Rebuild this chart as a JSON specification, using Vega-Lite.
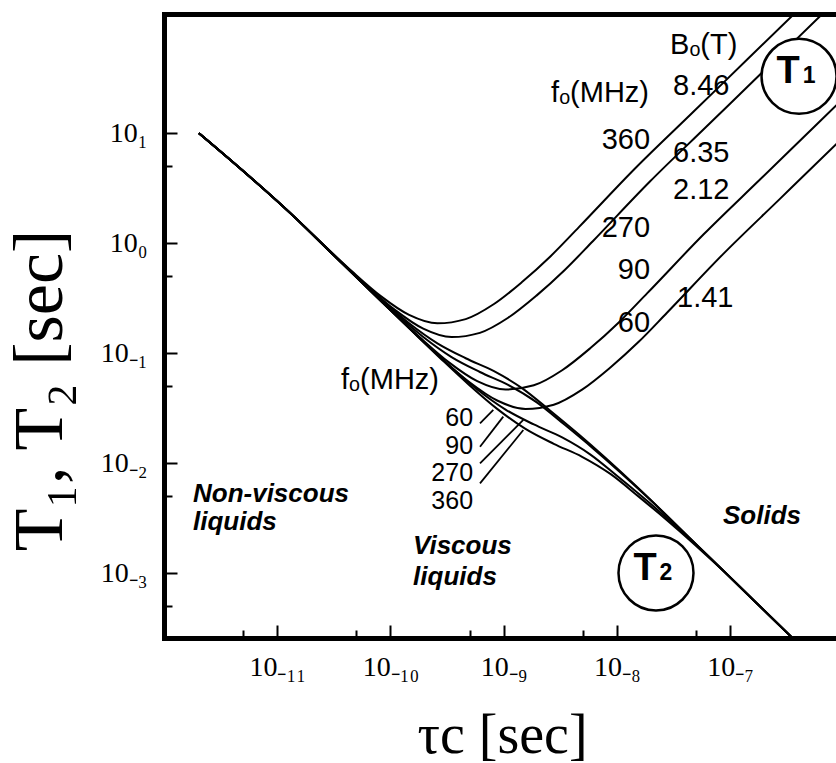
{
  "$schema": "https://vega.github.io/schema/vega-lite/v6.json",
  "width": 672,
  "height": 624,
  "autosize": {"type": "none"},
  "padding": {"left": 164, "top": 14, "right": 0, "bottom": 125},
  "background": "white",
  "config": {"view": {"stroke": null}},
  "resolve": {"axis": {"x": "independent", "y": "independent"}},
  "datasets": {
    "curves": [
      {"c": "T1-360", "tau": 2.037e-12, "T": 10},
      {"c": "T1-360", "tau": 1.462e-11, "T": 1.688},
      {"c": "T1-360", "tau": 2.600e-11, "T": 0.9565},
      {"c": "T1-360", "tau": 4.624e-11, "T": 0.5502},
      {"c": "T1-360", "tau": 8.222e-11, "T": 0.3310},
      {"c": "T1-360", "tau": 1.462e-10, "T": 0.2235},
      {"c": "T1-360", "tau": 2.600e-10, "T": 0.1874},
      {"c": "T1-360", "tau": 4.624e-10, "T": 0.2047},
      {"c": "T1-360", "tau": 8.222e-10, "T": 0.2805},
      {"c": "T1-360", "tau": 1.462e-9, "T": 0.4463},
      {"c": "T1-360", "tau": 2.600e-9, "T": 0.7630},
      {"c": "T1-360", "tau": 4.624e-9, "T": 1.402},
      {"c": "T1-360", "tau": 1.462e-8, "T": 4.833},
      {"c": "T1-360", "tau": 4.624e-8, "T": 15.27},
      {"c": "T1-360", "tau": 1.462e-7, "T": 48.30},
      {"c": "T1-360", "tau": 4.624e-7, "T": 152.7},

      {"c": "T2-360", "tau": 2.037e-12, "T": 10},
      {"c": "T2-360", "tau": 1.462e-11, "T": 1.685},
      {"c": "T2-360", "tau": 2.600e-11, "T": 0.9501},
      {"c": "T2-360", "tau": 4.624e-11, "T": 0.5390},
      {"c": "T2-360", "tau": 8.222e-11, "T": 0.3111},
      {"c": "T2-360", "tau": 1.462e-10, "T": 0.1875},
      {"c": "T2-360", "tau": 2.600e-10, "T": 0.1232},
      {"c": "T2-360", "tau": 4.624e-10, "T": 0.09020},
      {"c": "T2-360", "tau": 8.222e-10, "T": 0.06882},
      {"c": "T2-360", "tau": 1.462e-9, "T": 0.04803},
      {"c": "T2-360", "tau": 2.600e-9, "T": 0.02986},
      {"c": "T2-360", "tau": 4.624e-9, "T": 0.01824},
      {"c": "T2-360", "tau": 1.462e-8, "T": 6.281e-3},
      {"c": "T2-360", "tau": 4.624e-8, "T": 1.990e-3},
      {"c": "T2-360", "tau": 1.462e-7, "T": 6.29e-4},
      {"c": "T2-360", "tau": 4.624e-7, "T": 1.990e-4},

      {"c": "T1-270", "tau": 2.037e-12, "T": 10},
      {"c": "T1-270", "tau": 1.462e-11, "T": 1.685},
      {"c": "T1-270", "tau": 1.950e-11, "T": 1.266},
      {"c": "T1-270", "tau": 3.467e-11, "T": 0.7174},
      {"c": "T1-270", "tau": 6.166e-11, "T": 0.4125},
      {"c": "T1-270", "tau": 1.096e-10, "T": 0.2482},
      {"c": "T1-270", "tau": 1.950e-10, "T": 0.1675},
      {"c": "T1-270", "tau": 3.467e-10, "T": 0.1405},
      {"c": "T1-270", "tau": 6.166e-10, "T": 0.1535},
      {"c": "T1-270", "tau": 1.096e-9, "T": 0.2104},
      {"c": "T1-270", "tau": 1.950e-9, "T": 0.3346},
      {"c": "T1-270", "tau": 3.467e-9, "T": 0.5722},
      {"c": "T1-270", "tau": 6.166e-9, "T": 1.051},
      {"c": "T1-270", "tau": 1.950e-8, "T": 3.625},
      {"c": "T1-270", "tau": 6.166e-8, "T": 11.46},
      {"c": "T1-270", "tau": 1.950e-7, "T": 36.22},
      {"c": "T1-270", "tau": 6.166e-7, "T": 114.6},
      {"c": "T1-270", "tau": 1.950e-6, "T": 362.2},

      {"c": "T2-270", "tau": 2.037e-12, "T": 10},
      {"c": "T2-270", "tau": 1.462e-11, "T": 1.685},
      {"c": "T2-270", "tau": 1.950e-11, "T": 1.264},
      {"c": "T2-270", "tau": 3.467e-11, "T": 0.7126},
      {"c": "T2-270", "tau": 6.166e-11, "T": 0.4042},
      {"c": "T2-270", "tau": 1.096e-10, "T": 0.2332},
      {"c": "T2-270", "tau": 1.950e-10, "T": 0.1406},
      {"c": "T2-270", "tau": 3.467e-10, "T": 0.09239},
      {"c": "T2-270", "tau": 6.166e-10, "T": 0.06764},
      {"c": "T2-270", "tau": 1.096e-9, "T": 0.05162},
      {"c": "T2-270", "tau": 1.950e-9, "T": 0.03602},
      {"c": "T2-270", "tau": 3.467e-9, "T": 0.02239},
      {"c": "T2-270", "tau": 6.166e-9, "T": 0.01367},
      {"c": "T2-270", "tau": 1.950e-8, "T": 4.710e-3},
      {"c": "T2-270", "tau": 6.166e-8, "T": 1.492e-3},
      {"c": "T2-270", "tau": 1.950e-7, "T": 4.720e-4},
      {"c": "T2-270", "tau": 6.166e-7, "T": 1.492e-4},

      {"c": "T1-90", "tau": 2.037e-12, "T": 10},
      {"c": "T1-90", "tau": 1.462e-11, "T": 1.685},
      {"c": "T1-90", "tau": 3.162e-11, "T": 0.778},
      {"c": "T1-90", "tau": 5.848e-11, "T": 0.4221},
      {"c": "T1-90", "tau": 1.040e-10, "T": 0.2392},
      {"c": "T1-90", "tau": 1.849e-10, "T": 0.1376},
      {"c": "T1-90", "tau": 3.289e-10, "T": 0.08274},
      {"c": "T1-90", "tau": 5.848e-10, "T": 0.05586},
      {"c": "T1-90", "tau": 1.040e-9, "T": 0.04684},
      {"c": "T1-90", "tau": 1.849e-9, "T": 0.05118},
      {"c": "T1-90", "tau": 3.289e-9, "T": 0.07015},
      {"c": "T1-90", "tau": 5.848e-9, "T": 0.1116},
      {"c": "T1-90", "tau": 1.040e-8, "T": 0.1908},
      {"c": "T1-90", "tau": 1.849e-8, "T": 0.3504},
      {"c": "T1-90", "tau": 5.848e-8, "T": 1.208},
      {"c": "T1-90", "tau": 1.849e-7, "T": 3.820},
      {"c": "T1-90", "tau": 5.848e-7, "T": 12.08},
      {"c": "T1-90", "tau": 1.849e-6, "T": 38.20},

      {"c": "T2-90", "tau": 2.037e-12, "T": 10},
      {"c": "T2-90", "tau": 1.462e-11, "T": 1.685},
      {"c": "T2-90", "tau": 3.162e-11, "T": 0.778},
      {"c": "T2-90", "tau": 5.848e-11, "T": 0.4213},
      {"c": "T2-90", "tau": 1.040e-10, "T": 0.2376},
      {"c": "T2-90", "tau": 1.849e-10, "T": 0.1348},
      {"c": "T2-90", "tau": 3.289e-10, "T": 0.07773},
      {"c": "T2-90", "tau": 5.848e-10, "T": 0.04688},
      {"c": "T2-90", "tau": 1.040e-9, "T": 0.03081},
      {"c": "T2-90", "tau": 1.849e-9, "T": 0.02255},
      {"c": "T2-90", "tau": 3.289e-9, "T": 0.01720},
      {"c": "T2-90", "tau": 5.848e-9, "T": 0.01201},
      {"c": "T2-90", "tau": 1.040e-8, "T": 7.463e-3},
      {"c": "T2-90", "tau": 1.849e-8, "T": 4.561e-3},
      {"c": "T2-90", "tau": 5.848e-8, "T": 1.571e-3},
      {"c": "T2-90", "tau": 1.849e-7, "T": 4.976e-4},
      {"c": "T2-90", "tau": 5.848e-7, "T": 1.574e-4},

      {"c": "T1-60", "tau": 2.037e-12, "T": 10},
      {"c": "T1-60", "tau": 1.462e-11, "T": 1.685},
      {"c": "T1-60", "tau": 3.162e-11, "T": 0.778},
      {"c": "T1-60", "tau": 5.623e-11, "T": 0.4375},
      {"c": "T1-60", "tau": 8.770e-11, "T": 0.2815},
      {"c": "T1-60", "tau": 1.560e-10, "T": 0.1595},
      {"c": "T1-60", "tau": 2.773e-10, "T": 0.09173},
      {"c": "T1-60", "tau": 4.932e-10, "T": 0.05518},
      {"c": "T1-60", "tau": 8.770e-10, "T": 0.03725},
      {"c": "T1-60", "tau": 1.560e-9, "T": 0.03123},
      {"c": "T1-60", "tau": 2.773e-9, "T": 0.03411},
      {"c": "T1-60", "tau": 4.932e-9, "T": 0.04677},
      {"c": "T1-60", "tau": 8.770e-9, "T": 0.07439},
      {"c": "T1-60", "tau": 1.560e-8, "T": 0.1272},
      {"c": "T1-60", "tau": 2.773e-8, "T": 0.2337},
      {"c": "T1-60", "tau": 8.770e-8, "T": 0.8058},
      {"c": "T1-60", "tau": 2.773e-7, "T": 2.547},
      {"c": "T1-60", "tau": 8.770e-7, "T": 8.054},
      {"c": "T1-60", "tau": 2.773e-6, "T": 25.47},

      {"c": "T2-60", "tau": 2.037e-12, "T": 10},
      {"c": "T2-60", "tau": 1.462e-11, "T": 1.685},
      {"c": "T2-60", "tau": 3.162e-11, "T": 0.778},
      {"c": "T2-60", "tau": 5.623e-11, "T": 0.4375},
      {"c": "T2-60", "tau": 8.770e-11, "T": 0.2809},
      {"c": "T2-60", "tau": 1.560e-10, "T": 0.1584},
      {"c": "T2-60", "tau": 2.773e-10, "T": 0.08987},
      {"c": "T2-60", "tau": 4.932e-10, "T": 0.05186},
      {"c": "T2-60", "tau": 8.770e-10, "T": 0.03126},
      {"c": "T2-60", "tau": 1.560e-9, "T": 0.02054},
      {"c": "T2-60", "tau": 2.773e-9, "T": 0.01504},
      {"c": "T2-60", "tau": 4.932e-9, "T": 0.01147},
      {"c": "T2-60", "tau": 8.770e-9, "T": 8.011e-3},
      {"c": "T2-60", "tau": 1.560e-8, "T": 4.978e-3},
      {"c": "T2-60", "tau": 2.773e-8, "T": 3.042e-3},
      {"c": "T2-60", "tau": 8.770e-8, "T": 1.047e-3},
      {"c": "T2-60", "tau": 2.773e-7, "T": 3.318e-4},
      {"c": "T2-60", "tau": 8.770e-7, "T": 1.049e-4}
    ],
    "leaders": [
      {"tau": 6.186e-10, "T": 0.02312, "tau2": 8.11e-10, "T2": 0.03055},
      {"tau": 6.186e-10, "T": 0.01416, "tau2": 9.93e-10, "T2": 0.02655},
      {"tau": 6.186e-10, "T": 0.0100, "tau2": 1.493e-9, "T2": 0.02477},
      {"tau": 6.186e-10, "T": 0.006577, "tau2": 1.493e-9, "T2": 0.02009}
    ],
    "circles": [
      {"tau": 4.07e-7, "T": 33.0},
      {"tau": 2.218e-8, "T": 1.007e-3}
    ],
    "circleText": [
      {"tau": 4.07e-7, "T": 33.0, "text": "T", "kind": "big"},
      {"tau": 4.07e-7, "T": 33.0, "text": "1", "kind": "sub"},
      {"tau": 2.218e-8, "T": 1.007e-3, "text": "T", "kind": "big"},
      {"tau": 2.218e-8, "T": 1.007e-3, "text": "2", "kind": "sub"}
    ],
    "notes": [
      {"tau": 2.951e-8, "T": 63.5, "text": "Bₒ(T)", "kind": "l"},
      {"tau": 3.136e-8, "T": 26.9, "text": "8.46", "kind": "l"},
      {"tau": 3.136e-8, "T": 6.62, "text": "6.35", "kind": "l"},
      {"tau": 3.136e-8, "T": 3.051, "text": "2.12", "kind": "l"},
      {"tau": 3.404e-8, "T": 0.3185, "text": "1.41", "kind": "l"},
      {"tau": 7.106e-9, "T": 23.2, "text": "fₒ(MHz)", "kind": "c"},
      {"tau": 9.92e-11, "T": 0.0571, "text": "fₒ(MHz)", "kind": "c"},
      {"tau": 1.965e-8, "T": 8.69, "text": "360", "kind": "r"},
      {"tau": 1.965e-8, "T": 1.377, "text": "270", "kind": "r"},
      {"tau": 1.965e-8, "T": 0.5719, "text": "90", "kind": "r"},
      {"tau": 1.965e-8, "T": 0.1886, "text": "60", "kind": "r"},
      {"tau": 5.37e-10, "T": 0.02583, "text": "60", "kind": "rs"},
      {"tau": 5.37e-10, "T": 0.01435, "text": "90", "kind": "rs"},
      {"tau": 5.37e-10, "T": 8.16e-3, "text": "270", "kind": "rs"},
      {"tau": 5.37e-10, "T": 4.54e-3, "text": "360", "kind": "rs"},
      {"tau": 1.803e-12, "T": 5.26e-3, "text": "Non-viscous", "kind": "it"},
      {"tau": 1.803e-12, "T": 2.92e-3, "text": "liquids", "kind": "it"},
      {"tau": 1.585e-10, "T": 1.77e-3, "text": "Viscous", "kind": "it"},
      {"tau": 1.585e-10, "T": 9.25e-4, "text": "liquids", "kind": "it"},
      {"tau": 8.67e-8, "T": 3.32e-3, "text": "Solids", "kind": "it"}
    ]
  },
  "layer": [
    {
      "data": {"name": "curves"},
      "mark": {"type": "line", "color": "black", "strokeWidth": 2, "interpolate": "monotone", "clip": true},
      "encoding": {
        "x": {
          "field": "tau", "type": "quantitative",
          "scale": {"type": "log", "domain": [1e-12, 8.63e-7], "nice": false},
          "axis": {
            "orient": "bottom",
            "values": [5e-12, 1e-11, 5e-11, 1e-10, 5e-10, 1e-9, 5e-9, 1e-8, 5e-8, 1e-7],
            "labelExpr": "datum.value == 1e-11 ? '10₋₁₁' : datum.value == 1e-10 ? '10₋₁₀' : datum.value == 1e-9 ? '10₋₉' : datum.value == 1e-8 ? '10₋₈' : datum.value == 1e-7 ? '10₋₇' : ''",
            "labelFont": "Liberation Serif", "labelFontSize": 28, "labelColor": "black",
            "labelPadding": 28, "labelOverlap": false, "labelFlush": false,
            "tickSize": {"condition": {"test": "abs(log(datum.value)/LN10 - round(log(datum.value)/LN10)) < 0.01", "value": -13}, "value": -8},
            "tickWidth": 2, "tickColor": "black",
            "domainWidth": 5, "domainColor": "black", "domainCap": "square",
            "grid": false,
            "title": "τc [sec]", "titleFont": "Liberation Serif", "titleFontSize": 56,
            "titleFontWeight": "normal", "titleColor": "black",
            "titleX": 338, "titleY": 97, "titleAlign": "center", "titleBaseline": "middle"
          }
        },
        "y": {
          "field": "T", "type": "quantitative",
          "scale": {"type": "log", "domain": [2.582e-4, 121.5], "nice": false},
          "axis": {
            "orient": "left",
            "values": [5e-4, 1e-3, 5e-3, 1e-2, 5e-2, 1e-1, 5e-1, 1, 5, 10],
            "labelExpr": "datum.value == 10 ? '10₁' : datum.value == 1 ? '10₀' : datum.value == 0.1 ? '10₋₁' : datum.value == 0.01 ? '10₋₂' : datum.value == 0.001 ? '10₋₃' : ''",
            "labelFont": "Liberation Serif", "labelFontSize": 28, "labelColor": "black",
            "labelPadding": 30, "labelOverlap": false, "labelFlush": false,
            "tickSize": {"condition": {"test": "abs(log(datum.value)/LN10 - round(log(datum.value)/LN10)) < 0.01", "value": -13}, "value": -8},
            "tickWidth": 2, "tickColor": "black",
            "domainWidth": 5, "domainColor": "black", "domainCap": "square",
            "grid": false,
            "title": "T₁,  T₂  [sec]", "titleFont": "Liberation Serif", "titleFontSize": 70,
            "titleFontWeight": "normal", "titleColor": "black",
            "titleX": -124, "titleY": 376, "titleAngle": 270, "titleAlign": "center", "titleBaseline": "middle"
          }
        },
        "detail": {"field": "c"}
      }
    },
    {
      "data": {"name": "leaders"},
      "mark": {"type": "rule", "color": "black", "strokeWidth": 1.8},
      "encoding": {
        "x": {
          "field": "tau", "type": "quantitative",
          "scale": {"type": "log", "domain": [1e-12, 8.63e-7], "nice": false},
          "axis": {"orient": "top", "labels": false, "ticks": false, "domainWidth": 5, "domainColor": "black", "domainCap": "square", "grid": false, "title": null}
        },
        "x2": {"field": "tau2"},
        "y": {"field": "T", "type": "quantitative", "scale": {"type": "log", "domain": [2.582e-4, 121.5], "nice": false}, "axis": null},
        "y2": {"field": "T2"}
      }
    },
    {
      "data": {"name": "circles"},
      "mark": {"type": "point", "shape": "circle", "filled": true, "fill": "white", "stroke": "black", "strokeWidth": 2.5, "size": 5625, "opacity": 1, "fillOpacity": 1, "strokeOpacity": 1},
      "encoding": {
        "x": {"field": "tau", "type": "quantitative", "scale": {"type": "log", "domain": [1e-12, 8.63e-7], "nice": false}, "axis": null},
        "y": {"field": "T", "type": "quantitative", "scale": {"type": "log", "domain": [2.582e-4, 121.5], "nice": false}, "axis": null}
      }
    },
    {
      "data": {"name": "circleText"},
      "transform": [{"filter": "datum.kind == 'big'"}],
      "mark": {"type": "text", "font": "Liberation Sans", "fontWeight": "bold", "fontSize": 38, "color": "black", "align": "center", "baseline": "alphabetic", "dx": -11, "dy": 7},
      "encoding": {
        "x": {"field": "tau", "type": "quantitative", "scale": {"type": "log", "domain": [1e-12, 8.63e-7], "nice": false}, "axis": null},
        "y": {"field": "T", "type": "quantitative", "scale": {"type": "log", "domain": [2.582e-4, 121.5], "nice": false}, "axis": null},
        "text": {"field": "text"}
      }
    },
    {
      "data": {"name": "circleText"},
      "transform": [{"filter": "datum.kind == 'sub'"}],
      "mark": {"type": "text", "font": "Liberation Sans", "fontWeight": "bold", "fontSize": 23, "color": "black", "align": "center", "baseline": "alphabetic", "dx": 10, "dy": 7},
      "encoding": {
        "x": {"field": "tau", "type": "quantitative", "scale": {"type": "log", "domain": [1e-12, 8.63e-7], "nice": false}, "axis": null},
        "y": {"field": "T", "type": "quantitative", "scale": {"type": "log", "domain": [2.582e-4, 121.5], "nice": false}, "axis": null},
        "text": {"field": "text"}
      }
    },
    {
      "data": {"name": "notes"},
      "transform": [{"filter": "datum.kind == 'l'"}],
      "mark": {"type": "text", "font": "Liberation Sans", "fontSize": 29, "color": "black", "align": "left", "baseline": "middle"},
      "encoding": {
        "x": {"field": "tau", "type": "quantitative", "scale": {"type": "log", "domain": [1e-12, 8.63e-7], "nice": false}, "axis": null},
        "y": {"field": "T", "type": "quantitative", "scale": {"type": "log", "domain": [2.582e-4, 121.5], "nice": false}, "axis": null},
        "text": {"field": "text"}
      }
    },
    {
      "data": {"name": "notes"},
      "transform": [{"filter": "datum.kind == 'r'"}],
      "mark": {"type": "text", "font": "Liberation Sans", "fontSize": 29, "color": "black", "align": "right", "baseline": "middle"},
      "encoding": {
        "x": {"field": "tau", "type": "quantitative", "scale": {"type": "log", "domain": [1e-12, 8.63e-7], "nice": false}, "axis": null},
        "y": {"field": "T", "type": "quantitative", "scale": {"type": "log", "domain": [2.582e-4, 121.5], "nice": false}, "axis": null},
        "text": {"field": "text"}
      }
    },
    {
      "data": {"name": "notes"},
      "transform": [{"filter": "datum.kind == 'rs'"}],
      "mark": {"type": "text", "font": "Liberation Sans", "fontSize": 25, "color": "black", "align": "right", "baseline": "middle"},
      "encoding": {
        "x": {"field": "tau", "type": "quantitative", "scale": {"type": "log", "domain": [1e-12, 8.63e-7], "nice": false}, "axis": null},
        "y": {"field": "T", "type": "quantitative", "scale": {"type": "log", "domain": [2.582e-4, 121.5], "nice": false}, "axis": null},
        "text": {"field": "text"}
      }
    },
    {
      "data": {"name": "notes"},
      "transform": [{"filter": "datum.kind == 'c'"}],
      "mark": {"type": "text", "font": "Liberation Sans", "fontSize": 29, "color": "black", "align": "center", "baseline": "middle"},
      "encoding": {
        "x": {"field": "tau", "type": "quantitative", "scale": {"type": "log", "domain": [1e-12, 8.63e-7], "nice": false}, "axis": null},
        "y": {"field": "T", "type": "quantitative", "scale": {"type": "log", "domain": [2.582e-4, 121.5], "nice": false}, "axis": null},
        "text": {"field": "text"}
      }
    },
    {
      "data": {"name": "notes"},
      "transform": [{"filter": "datum.kind == 'it'"}],
      "mark": {"type": "text", "font": "Liberation Sans", "fontSize": 26, "fontWeight": "bold", "fontStyle": "italic", "color": "black", "align": "left", "baseline": "middle"},
      "encoding": {
        "x": {"field": "tau", "type": "quantitative", "scale": {"type": "log", "domain": [1e-12, 8.63e-7], "nice": false}, "axis": null},
        "y": {"field": "T", "type": "quantitative", "scale": {"type": "log", "domain": [2.582e-4, 121.5], "nice": false}, "axis": null},
        "text": {"field": "text"}
      }
    }
  ]
}
